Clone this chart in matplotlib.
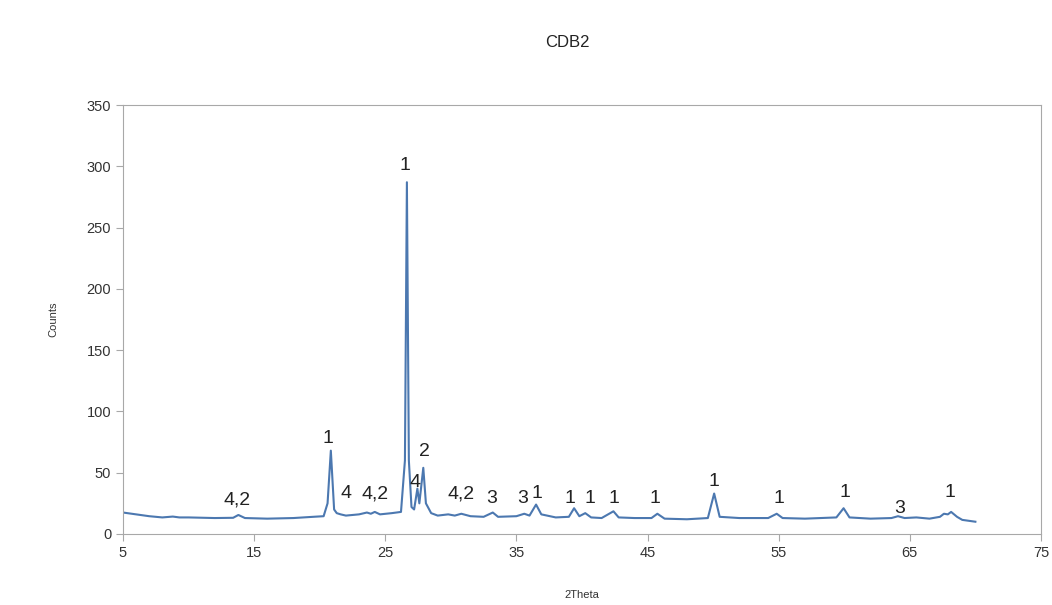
import matplotlib
matplotlib.use("Agg")
import matplotlib.pyplot as plt

plt.rcParams['font.family'] = ['Liberation Sans', 'DejaVu Sans']

# traced XRD pattern (2Theta, Counts)
two_theta = [5.0, 6.0, 7.0, 8.0, 8.8, 9.3, 10.0, 12.0, 13.4, 13.8, 14.3, 16.0, 18.0,
             19.5, 20.3, 20.6, 20.85, 21.1, 21.3, 21.6, 22.0, 23.0, 23.6, 23.9, 24.2,
             24.6, 25.5, 26.2, 26.5, 26.65, 26.8, 27.0, 27.2, 27.45, 27.6, 27.9, 28.1,
             28.5, 29.0, 29.8, 30.3, 30.8, 31.5, 32.5, 33.2, 33.6, 35.0, 35.6, 36.0,
             36.5, 36.9, 38.0, 39.0, 39.4, 39.8, 40.25, 40.7, 41.5, 42.4, 42.8, 44.0,
             45.3, 45.75, 46.3, 48.0, 49.6, 50.08, 50.5, 52.0, 54.2, 54.85, 55.3, 57.0,
             59.4, 59.95, 60.4, 62.0, 63.6, 64.1, 64.6, 65.5, 66.5, 67.3, 67.6, 67.9,
             68.15, 68.6, 69.0, 70.0]
counts = [17.5, 16.0, 14.5, 13.5, 14.2, 13.5, 13.5, 13.0, 13.2, 15.5, 13.0, 12.5, 13.0,
          14.0, 14.5, 25.0, 68.0, 20.0, 17.0, 16.0, 15.0, 16.0, 17.5, 16.5, 18.0,
          16.0, 17.0, 18.0, 60.0, 287.0, 60.0, 22.0, 20.0, 37.0, 25.0, 54.0, 25.0,
          17.0, 15.0, 16.0, 15.0, 16.5, 14.5, 14.0, 17.5, 14.0, 14.5, 16.5, 15.0,
          24.0, 16.0, 13.5, 14.0, 21.0, 14.5, 17.0, 13.5, 13.0, 18.5, 13.5, 13.0,
          13.0, 16.5, 12.5, 12.0, 13.0, 33.0, 14.0, 13.0, 13.0, 16.5, 13.0, 12.5,
          13.5, 21.0, 13.5, 12.5, 13.0, 14.5, 13.0, 13.5, 12.5, 14.0, 16.5, 16.0,
          18.0, 14.0, 11.5, 10.0]

# phase labels and where they sit
label_text = ["4,2", "1", "4", "4,2", "1", "4", "2", "4,2", "3", "3", "1", "1", "1",
              "1", "1", "1", "1", "1", "3", "1"]
label_x = [13.7, 20.6, 22.0, 24.2, 26.5, 27.3, 28.0, 30.8, 33.1, 35.5, 36.6, 39.1, 40.6,
           42.4, 45.6, 50.1, 55.0, 60.05, 64.25, 68.06]
label_y = [27.7, 78, 33, 33, 301, 42, 67, 33, 29, 29, 33, 29, 29,
           29, 29, 43, 29, 34, 21, 34]

fig = plt.figure(figsize=(10.52, 6.05), dpi=100)
ax = fig.add_axes([0.1169, 0.1174, 0.8726, 0.709])

ax.plot(two_theta, counts, color="#4c78b0", lw=1.5)

for t, x, y in zip(label_text, label_x, label_y):
    ax.text(x, y, t, ha="center", va="center", fontsize=14, color="#222222")

ax.set_xlim(5, 75)
ax.set_ylim(0, 350)
ax.set_xticks(range(5, 76, 10))
ax.set_yticks(range(0, 351, 50))
for s in ax.spines.values():
    s.set_color("#a8a8a8")
ax.tick_params(colors="#a8a8a8", labelcolor="#333333", labelsize=10.5, length=5)

ax.set_xlabel("2Theta", fontsize=8, color="#333333", labelpad=22)
ax.set_ylabel("Counts", fontsize=8, color="#333333", labelpad=20)
fig.text(0.539, 0.93, "CDB2", ha="center", va="center", fontsize=12, color="#222222")

fig.savefig("out.png", dpi=100)
